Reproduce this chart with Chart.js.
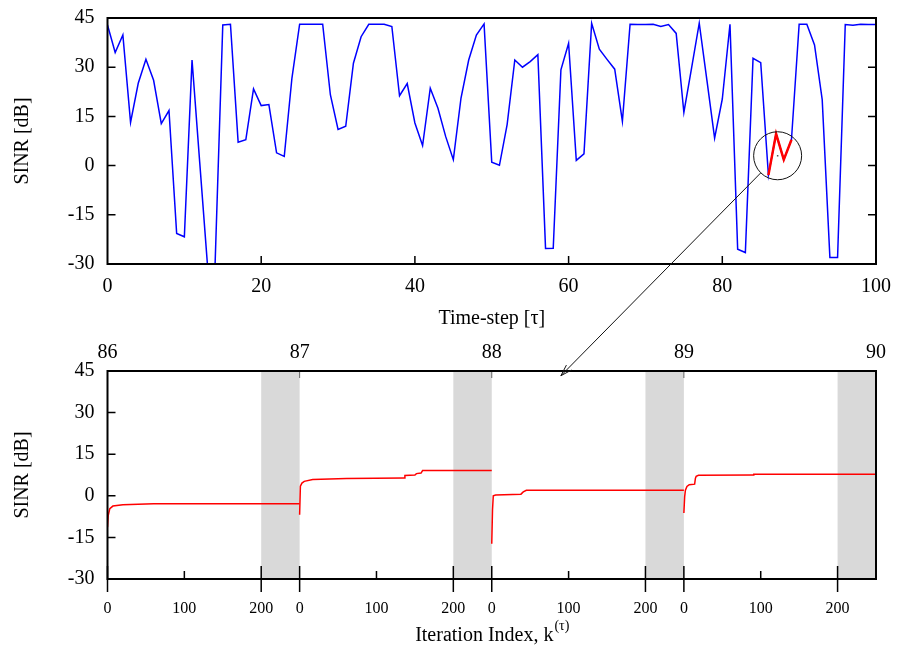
<!DOCTYPE html>
<html>
<head>
<meta charset="utf-8">
<script src="https://cdn.jsdelivr.net/npm/chart.js@4"></script>
<style>
  html, body { margin: 0; background: #fff; }
  #wrap { position: relative; width: 900px; height: 652px; }
  #wrap canvas { position: absolute; left: 0; top: 0; }
</style>
</head>
<body>
<div id="wrap">
  <canvas id="stepChart" width="900" height="652"></canvas>
  <canvas id="iterChart" width="900" height="652"></canvas>
</div>
<script>
// SINR per time-step, tau = 0..100
const sinrPerStep = [
  42.9, 34.5, 39.8, 13.2, 25.1, 32.4, 26.0, 12.8, 16.8, -20.7,
  -21.7, 32.2, 1.0, -30, -30, 42.9, 43.1, 7.1, 7.9, 23.4,
  18.3, 18.6, 3.9, 2.8, 26.7, 43.1, 43.1, 43.1, 43.1, 21.6,
  11.0, 12.0, 31.2, 39.3, 43.1, 43.1, 43.1, 42.4, 21.3, 25.0,
  13.0, 6.1, 23.6, 17.5, 8.9, 1.8, 20.6, 32.2, 39.8, 43.2,
  1.0, 0.1, 12.5, 32.2, 30.0, 31.7, 33.8, -25.3, -25.2, 29.2,
  37.3, 1.6, 3.6, 43.4, 35.5, 32.4, 29.4, 13.5, 43.1, 43.0,
  43.0, 43.1, 42.4, 43.0, 40.3, 16.2, 29.7, 43.4, 26.0, 8.4,
  20.3, 43.1, -25.5, -26.5, 32.7, 31.4, -2.9, 9.7, 1.8, 7.9,
  43.1, 43.1, 36.8, 20.1, -28, -28, 43.0, 42.8, 43.1, 43.0,
  43.0
];

// time-steps that are zoomed in the lower panel
const zoomSteps = [86, 87, 88, 89];
const stepLabels = [86, 87, 88, 89, 90];

// iterations inside each zoomed time-step (250 per step)
const itersPerStep = 250;
const iterTickLabels = [0, 100, 200];
const shadeRange = [200, 250];

const iter86 = [0, 1, 3, 7, 20, 60, 250];
const sinr86 = [-11.3, -7.0, -4.6, -3.7, -3.2, -2.9, -2.9];
const iter87 = [0, 1, 3, 6, 17, 61, 136, 137, 150, 152, 158, 160, 250];
const sinr87 = [-6.8, 3.5, 4.6, 5.2, 5.9, 6.2, 6.4, 7.3, 7.5, 8.0, 8.2, 9.1, 9.1];
const iter88 = [0, 1, 2, 5, 38, 41, 45, 250];
const sinr88 = [-17.3, -5.0, 0.0, 0.3, 0.6, 1.4, 2.0, 2.0];
const iter89 = [0, 1, 2, 4, 7, 14, 15, 16, 19, 90, 91, 250];
const sinr89 = [-6.2, -0.4, 2.0, 3.4, 4.0, 4.2, 6.3, 7.0, 7.4, 7.5, 7.8, 7.8];

// circle around the zoomed part and the arrow target in the lower panel
const zoomCircle = { t: 87.2, sinr: 3.0 };
const arrowTip = { k: 590, sinr: 43.3 };

Chart.defaults.font.family = '"Liberation Serif", "Times New Roman", serif';
Chart.defaults.font.size = 20;
Chart.defaults.color = '#000';

function makeFrame(cfg) {
   return {
      id: 'frame',
      beforeDatasetsDraw(chart) {
         if (!cfg.shade) return;
         const { ctx, chartArea: a, scales: { x } } = chart;
         ctx.save();
         ctx.fillStyle = '#d9d9d9';
         zoomSteps.forEach((s, i) => {
            const x0 = x.getPixelForValue(i * itersPerStep + shadeRange[0]);
            const x1 = x.getPixelForValue(i * itersPerStep + shadeRange[1]);
            ctx.fillRect(x0, a.top, x1 - x0, a.bottom - a.top);
         });
         ctx.restore();
      },
      afterDatasetsDraw(chart) {
         const { ctx, chartArea: a, scales: { x, y } } = chart;
         ctx.save();
         ctx.strokeStyle = '#000';
         ctx.lineWidth = 1.5;
         ctx.beginPath();
         y.ticks.forEach(t => {
            const py = y.getPixelForValue(t.value);
            if (py <= a.top + 1 || py >= a.bottom - 1) return;
            ctx.moveTo(a.left, py);
            ctx.lineTo(a.left + 8, py);
            if (cfg.mirrorY) {
               ctx.moveTo(a.right, py);
               ctx.lineTo(a.right - 8, py);
            }
         });
         x.ticks.forEach(t => {
            const px = x.getPixelForValue(t.value);
            const [up, down] = cfg.xTick(t.value);
            if (!up && !down) return;
            ctx.moveTo(px, a.bottom + down);
            ctx.lineTo(px, a.bottom - up);
         });
         ctx.stroke();

         if (cfg.topTicks) {
            const xt = chart.scales.xTop;
            ctx.strokeStyle = '#666';
            ctx.lineWidth = 1;
            ctx.beginPath();
            xt.ticks.forEach(t => {
               const px = xt.getPixelForValue(t.value);
               if (px <= a.left + 1 || px >= a.right - 1) return;
               ctx.moveTo(px, a.top);
               ctx.lineTo(px, a.top + 7);
            });
            ctx.stroke();
         }

         ctx.strokeStyle = '#000';
         ctx.lineWidth = 2;
         ctx.strokeRect(a.left, a.top, a.right - a.left, a.bottom - a.top);
         ctx.restore();
      }
   };
}

// fixed axis sizes, without the extra label padding Chart.js adds at the ends
function fixYAxis(s) {
   s.width = 107.5;
   s.paddingTop = 0;
   s.paddingBottom = 0;
}

function fixXAxis(h) {
   return s => {
      s.height = h;
      s.paddingLeft = 0;
      s.paddingRight = 0;
   };
}

const stepChart = new Chart(document.getElementById('stepChart'), {
   type: 'line',

   data: {
      datasets: [
         {
            label: 'zoomed',
            data: zoomSteps.map(t => ({ x: t, y: sinrPerStep[t] })),
            borderColor: '#ff0000',
            borderWidth: 2.5
         },
         {
            label: 'SINR',
            data: sinrPerStep.map((v, i) => ({ x: i, y: v })),
            borderColor: '#0000ff',
            borderWidth: 1.5
         }
      ]
   },

   options: {
      responsive: false,
      animation: false,
      layout: { padding: { top: 18, right: 24, bottom: 318, left: 0 } },
      elements: { point: { radius: 0 }, line: { tension: 0 } },
      plugins: { legend: { display: false }, tooltip: { enabled: false } },
      scales: {
         x: {
            type: 'linear',
            min: 0,
            max: 100,
            ticks: { stepSize: 20, padding: 11 },
            grid: { display: false, drawTicks: false },
            border: { display: false },
            title: { display: true, text: 'Time-step [τ]', padding: { top: 0, bottom: 3 } },
            afterFit: fixXAxis(70)
         },
         y: {
            min: -30,
            max: 45,
            ticks: { stepSize: 15, padding: 13 },
            grid: { display: false, drawTicks: false },
            border: { display: false },
            title: { display: true, text: 'SINR [dB]', padding: { top: 11, bottom: 0 } },
            afterFit: fixYAxis
         }
      }
   },

   plugins: [makeFrame({
      mirrorY: true,
      xTick: v => (v > 0 && v < 100 ? [8, 0] : [0, 0])
   })]
});

function segment(i, iters, sinr) {
   return {
      label: 'tau ' + zoomSteps[i],
      data: iters.map((k, j) => ({ x: i * itersPerStep + k, y: sinr[j] })),
      borderColor: '#ff0000',
      borderWidth: 1.5
   };
}

const zoomArrow = {
   id: 'zoomArrow',
   afterDraw(chart) {
      const { ctx } = chart;
      const cx = stepChart.scales.x.getPixelForValue(zoomCircle.t);
      const cy = stepChart.scales.y.getPixelForValue(zoomCircle.sinr);
      const r = 24;
      const tx = chart.scales.x.getPixelForValue(arrowTip.k);
      const ty = chart.scales.y.getPixelForValue(arrowTip.sinr);
      const ang = Math.atan2(ty - cy, tx - cx);
      const sx = cx + r * Math.cos(ang), sy = cy + r * Math.sin(ang);
      ctx.save();
      ctx.strokeStyle = '#111';
      ctx.lineWidth = 1;
      ctx.beginPath();
      ctx.arc(cx, cy, r, 0, Math.PI * 2);
      ctx.stroke();
      ctx.fillStyle = '#555';
      ctx.fillRect(cx - 0.75, cy - 0.75, 1.5, 1.5);
      ctx.beginPath();
      ctx.moveTo(sx, sy);
      ctx.lineTo(tx, ty);
      const back = ang + Math.PI, head = 12, spread = 0.3;
      ctx.moveTo(tx + head * Math.cos(back - spread), ty + head * Math.sin(back - spread));
      ctx.lineTo(tx, ty);
      ctx.lineTo(tx + head * Math.cos(back + spread), ty + head * Math.sin(back + spread));
      ctx.stroke();

      // x axis title with superscript
      const a = chart.chartArea;
      const main = 'Iteration Index, k', sup = '(τ)';
      ctx.fillStyle = '#000';
      ctx.textBaseline = 'middle';
      ctx.font = '20px "Liberation Serif", serif';
      const w1 = ctx.measureText(main).width;
      ctx.font = '14px "Liberation Serif", serif';
      const w2 = ctx.measureText(sup).width;
      const x0 = (a.left + a.right) / 2 - (w1 + w2) / 2;
      ctx.font = '20px "Liberation Serif", serif';
      ctx.textAlign = 'left';
      ctx.fillText(main, x0, 636);
      ctx.font = '14px "Liberation Serif", serif';
      ctx.fillText(sup, x0 + w1 + 1, 626);
      ctx.restore();
   }
};

const iterTickValues = [];
zoomSteps.forEach((s, i) => iterTickLabels.forEach(k => iterTickValues.push(i * itersPerStep + k)));

new Chart(document.getElementById('iterChart'), {
   type: 'line',

   data: {
      datasets: [
         segment(0, iter86, sinr86),
         segment(1, iter87, sinr87),
         segment(2, iter88, sinr88),
         segment(3, iter89, sinr89)
      ]
   },

   options: {
      responsive: false,
      animation: false,
      layout: { padding: { top: 331, right: 24, bottom: 0, left: 0 } },
      elements: { point: { radius: 0 }, line: { tension: 0 } },
      plugins: { legend: { display: false }, tooltip: { enabled: false } },
      scales: {
         x: {
            type: 'linear',
            min: 0,
            max: zoomSteps.length * itersPerStep,
            afterBuildTicks: s => { s.ticks = iterTickValues.map(v => ({ value: v })); },
            ticks: {
               autoSkip: false,
               maxRotation: 0,
               padding: 20,
               font: { size: 16 },
               callback: v => v % itersPerStep
            },
            grid: { display: false, drawTicks: false },
            border: { display: false },
            afterFit: fixXAxis(73)
         },
         xTop: {
            type: 'linear',
            position: 'top',
            min: 0,
            max: zoomSteps.length * itersPerStep,
            afterBuildTicks: s => { s.ticks = stepLabels.map((l, i) => ({ value: i * itersPerStep })); },
            ticks: {
               autoSkip: false,
               maxRotation: 0,
               padding: 6,
               callback: (v, i) => stepLabels[i]
            },
            grid: { display: false, drawTicks: false },
            border: { display: false },
            afterFit: fixXAxis(40)
         },
         y: {
            min: -30,
            max: 45,
            ticks: { stepSize: 15, padding: 13 },
            grid: { display: false, drawTicks: false },
            border: { display: false },
            title: { display: true, text: 'SINR [dB]', padding: { top: 11, bottom: 0 } },
            afterFit: fixYAxis
         }
      }
   },

   plugins: [makeFrame({
      shade: true,
      topTicks: true,
      xTick: v => {
         const k = v % itersPerStep;
         if (k === 0 || k === shadeRange[0]) return [13, 13];
         return [8, 0];
      }
   }), zoomArrow]
});
</script>
</body>
</html>
